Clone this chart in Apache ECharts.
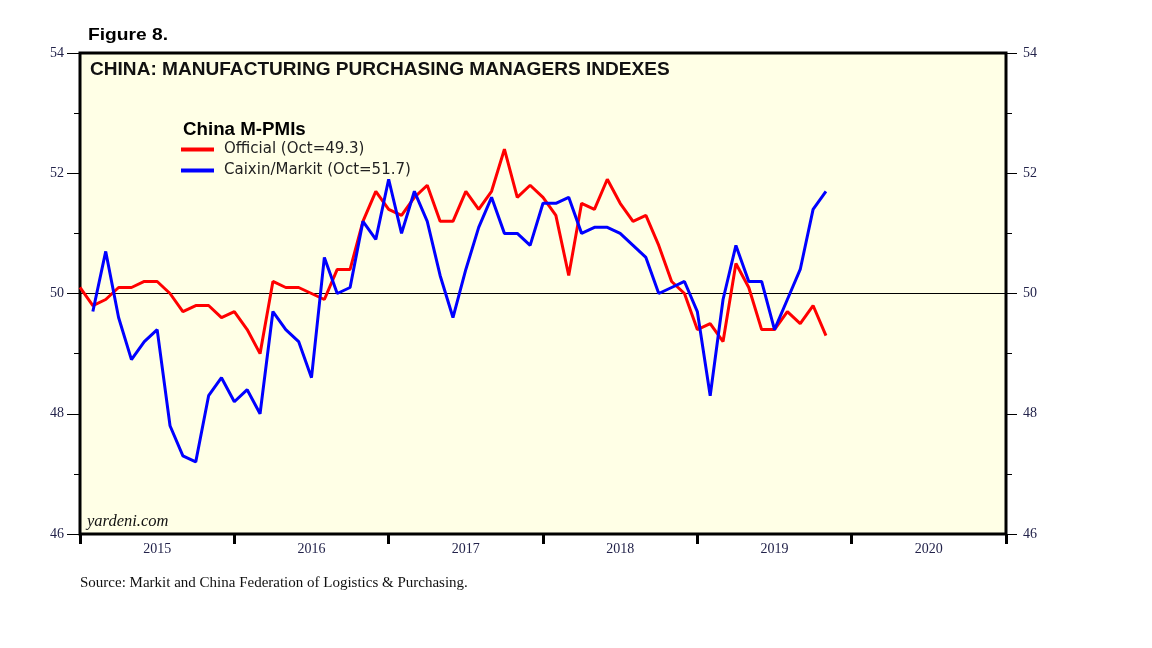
<!DOCTYPE html>
<html>
<head>
<meta charset="utf-8">
<script src="https://cdn.jsdelivr.net/npm/echarts@6/dist/echarts.min.js"></script>
<style>
  html, body { margin: 0; padding: 0; background: #fff; }
  #main { width: 1152px; height: 648px; }
</style>
</head>
<body>
<div id="main"></div>
<script>
// years on the bottom axis, months are plotted at month end (0 = Dec 2014)
const years = ['2015', '2016', '2017', '2018', '2019', '2020'];

// official NBS manufacturing PMI, Dec 2014 .. Oct 2019
const official = [
  50.1,
  49.8, 49.9, 50.1, 50.1, 50.2, 50.2, 50.0, 49.7, 49.8, 49.8, 49.6, 49.7,
  49.4, 49.0, 50.2, 50.1, 50.1, 50.0, 49.9, 50.4, 50.4, 51.2, 51.7, 51.4,
  51.3, 51.6, 51.8, 51.2, 51.2, 51.7, 51.4, 51.7, 52.4, 51.6, 51.8, 51.6,
  51.3, 50.3, 51.5, 51.4, 51.9, 51.5, 51.2, 51.3, 50.8, 50.2, 50.0, 49.4,
  49.5, 49.2, 50.5, 50.1, 49.4, 49.4, 49.7, 49.5, 49.8, 49.3
];

// Caixin/Markit manufacturing PMI, Jan 2015 .. Oct 2019
const caixin = [
  49.7, 50.7, 49.6, 48.9, 49.2, 49.4, 47.8, 47.3, 47.2, 48.3, 48.6, 48.2,
  48.4, 48.0, 49.7, 49.4, 49.2, 48.6, 50.6, 50.0, 50.1, 51.2, 50.9, 51.9,
  51.0, 51.7, 51.2, 50.3, 49.6, 50.4, 51.1, 51.6, 51.0, 51.0, 50.8, 51.5,
  51.5, 51.6, 51.0, 51.1, 51.1, 51.0, 50.8, 50.6, 50.0, 50.1, 50.2, 49.7,
  48.3, 49.9, 50.8, 50.2, 50.2, 49.4, 49.9, 50.4, 51.4, 51.7
];

const officialStart = 0;   // Dec 2014
const caixinStart = 1;     // Jan 2015

const chart = echarts.init(document.getElementById('main'));

const officialName = 'Official (Oct=' + official[official.length - 1].toFixed(1) + ')';
const caixinName = 'Caixin/Markit (Oct=' + caixin[caixin.length - 1].toFixed(1) + ')';

const labelColor = '#22224a';

function yAxisFor(pos, tickLen, margin) {
  return {
    type: 'value',
    position: pos,
    min: 46,
    max: 54,
    interval: 2,
    axisLine: { show: false },
    axisTick: { show: true, length: tickLen, lineStyle: { color: '#000', width: 1 } },
    minorTick: { show: true, splitNumber: 2, length: 6, lineStyle: { color: '#000', width: 1 } },
    splitLine: { show: false },
    minorSplitLine: { show: false },
    axisLabel: {
      color: labelColor,
      fontFamily: 'Liberation Serif',
      fontSize: 14,
      margin: margin
    }
  };
}

// free text, stretched a little sideways like the original
function label(text, x, y, font, sx, color) {
  return {
    type: 'text',
    x: x,
    y: y,
    scaleX: sx,
    silent: true,
    style: {
      text: text,
      font: font,
      fill: color || '#000',
      textAlign: 'left',
      textVerticalAlign: 'top'
    }
  };
}

chart.setOption({
  animation: false,
  graphic: [
    label('Figure 8.', 88, 27, 'bold 17px "Liberation Sans"', 1.13),
    label('CHINA: MANUFACTURING PURCHASING MANAGERS INDEXES', 90, 61, 'bold 17.5px "Liberation Sans"', 1.09, '#111'),
    label('China M-PMIs', 183, 121, 'bold 17.5px "Liberation Sans"', 1.07),
    label('yardeni.com', 87, 513, 'italic 16.5px "Liberation Serif"', 1.0, '#111'),
    label('Source: Markit and China Federation of Logistics & Purchasing.', 80, 576, '15px "Liberation Serif"', 1.0, '#111')
  ],
  legend: {
    orient: 'vertical',
    left: 176,
    top: 137,
    itemWidth: 33,
    itemHeight: 4,
    itemGap: 6,
    icon: 'rect',
    textStyle: { fontFamily: 'DejaVu Sans', fontSize: 15, color: '#222', padding: [0, 0, 0, 5] },
    data: [officialName, caixinName]
  },
  grid: {
    left: 80,
    right: 146,
    top: 53,
    bottom: 114,
    show: true,
    backgroundColor: '#FFFFE6',
    borderColor: '#000',
    borderWidth: 3
  },
  xAxis: [
    {
      type: 'category',
      data: years,
      boundaryGap: true,
      position: 'bottom',
      axisLine: { show: false },
      axisTick: { show: true, length: 10, lineStyle: { color: '#000', width: 3 } },
      axisLabel: {
        color: labelColor,
        fontFamily: 'Liberation Serif',
        fontSize: 14,
        margin: 8
      },
      splitLine: { show: false }
    },
    {
      type: 'value',
      min: 0,
      max: 72,
      show: false
    }
  ],
  yAxis: [yAxisFor('left', 13, 16), yAxisFor('right', 11, 17)],
  series: [
    {
      name: officialName,
      type: 'line',
      xAxisIndex: 1,
      yAxisIndex: 0,
      data: official.map((v, i) => [officialStart + i, v]),
      showSymbol: false,
      lineStyle: { color: '#FF0000', width: 3 },
      itemStyle: { color: '#FF0000' },
      z: 3,
      markLine: {
        silent: true,
        symbol: 'none',
        label: { show: false },
        lineStyle: { color: '#000', width: 1, type: 'solid' },
        data: [{ yAxis: 50 }],
        z: 1
      }
    },
    {
      name: caixinName,
      type: 'line',
      xAxisIndex: 1,
      yAxisIndex: 0,
      data: caixin.map((v, i) => [caixinStart + i, v]),
      showSymbol: false,
      lineStyle: { color: '#0000FF', width: 3 },
      itemStyle: { color: '#0000FF' },
      z: 4
    }
  ]
});
</script>
</body>
</html>
